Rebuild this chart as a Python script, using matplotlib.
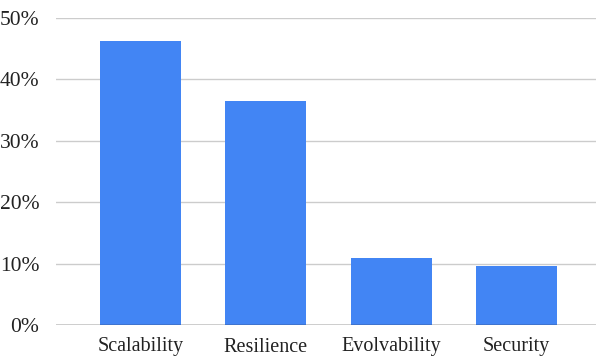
import matplotlib
matplotlib.use('agg')
import matplotlib.pyplot as plt
from matplotlib.ticker import PercentFormatter

categories = ['Scalability', 'Resilience', 'Evolvability', 'Security']
shares = [0.462, 0.365, 0.109, 0.096]
yticks = [0, 0.1, 0.2, 0.3, 0.4, 0.5]

plt.rcParams['font.family'] = ['Liberation Serif', 'DejaVu Serif']

fig = plt.figure(figsize=(5.96, 3.6), dpi=100)
ax = fig.add_axes([56 / 596, 35 / 360, 540 / 596, 307 / 360])

x = range(len(categories))
ax.bar(x, shares, width=0.646, color='#4285F4', zorder=3)

ax.set_xlim(-0.674, 3.635)
ax.set_ylim(0, 0.5)
ax.set_yticks(yticks)
ax.yaxis.set_major_formatter(PercentFormatter(1.0, decimals=0))
ax.set_xticks(list(x))
ax.set_xticklabels(categories)

# light horizontal grid, dark baseline
ax.grid(axis='y', color='#cccccc', linewidth=1, zorder=0)
ax.axhline(0, color='#333333', linewidth=1, zorder=4)
for s in ax.spines.values():
    s.set_visible(False)
ax.tick_params(axis='x', length=0, labelsize=14.5, colors='#222222', pad=9)
ax.tick_params(axis='y', length=0, labelsize=15.5, colors='#222222', pad=12)

fig.savefig('out.png', dpi=100)
